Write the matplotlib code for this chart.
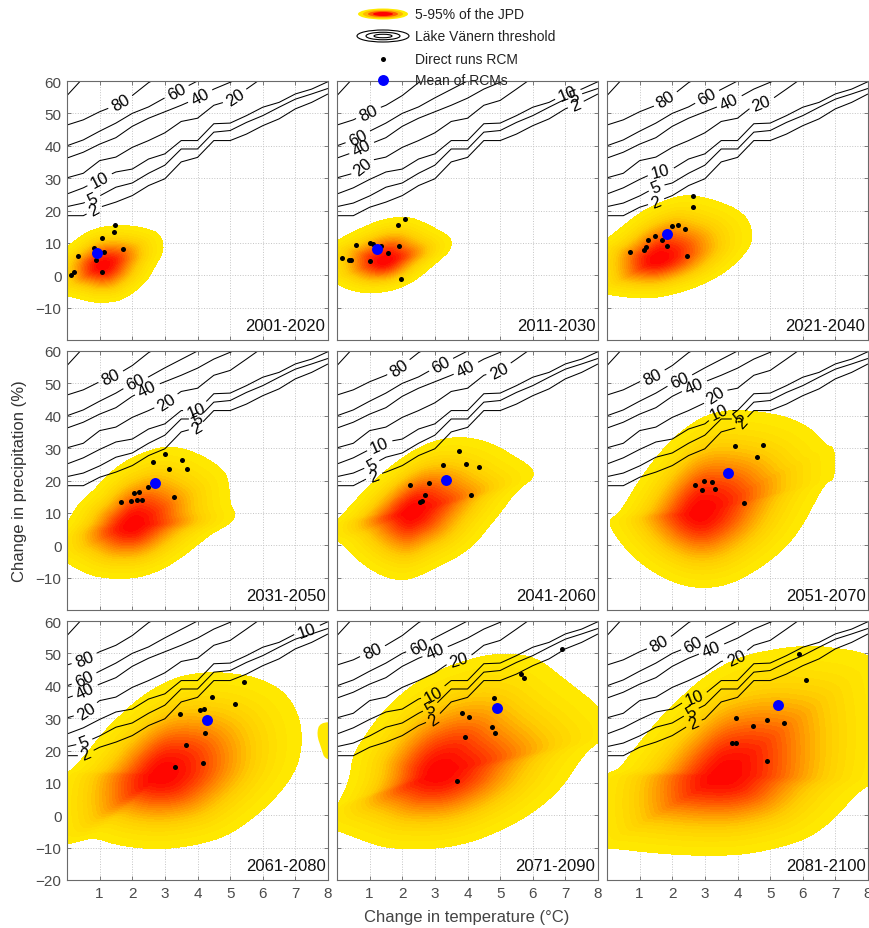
import numpy as np
import matplotlib
matplotlib.use("Agg")
import matplotlib.pyplot as plt
from matplotlib.colors import LinearSegmentedColormap, Normalize
from matplotlib.contour import ContourSet
from matplotlib.patches import Ellipse

plt.rcParams["font.family"] = ["Liberation Sans", "DejaVu Sans"]

periods = ["2001-2020", "2011-2030", "2021-2040",
           "2031-2050", "2041-2060", "2051-2070",
           "2061-2080", "2071-2090", "2081-2100"]

# direct RCM runs: change in temperature (°C) and precipitation (%)
run_dt = {
    "2001-2020": [1.48, 1.45, 1.07, 0.82, 0.86, 1.72, 1.14, 0.89, 0.33, 0.20, 0.13, 1.07],
    "2011-2030": [2.07, 1.87, 0.59, 1.02, 1.10, 1.36, 1.90, 1.56, 1.00, 0.16, 0.37, 0.42, 1.97],
    "2021-2040": [2.64, 2.64, 2.00, 2.19, 2.40, 1.48, 1.70, 1.26, 1.20, 1.12, 1.84, 0.69, 2.45],
    "2031-2050": [3.01, 2.64, 3.52, 3.68, 3.14, 2.48, 2.20, 2.04, 1.66, 1.96, 2.16, 2.29, 3.27],
    "2041-2060": [3.73, 3.25, 3.96, 4.35, 2.25, 2.82, 2.69, 2.62, 2.53, 4.10],
    "2051-2070": [3.93, 4.78, 4.59, 2.97, 2.69, 3.22, 2.92, 3.30, 4.19],
    "2061-2080": [5.43, 4.44, 5.16, 4.07, 4.19, 3.45, 4.23, 3.66, 3.31, 4.18],
    "2071-2090": [6.89, 5.65, 5.73, 4.82, 3.84, 4.04, 4.74, 4.85, 3.91, 3.67],
    "2081-2100": [5.87, 6.11, 3.96, 4.90, 4.48, 5.43, 3.83, 3.95, 4.90],
}
run_dp = {
    "2001-2020": [15.4, 13.3, 11.4, 8.5, 7.8, 8.1, 7.3, 4.8, 5.8, 0.9, 0.2, 0.9],
    "2011-2030": [17.4, 15.4, 9.2, 10.0, 9.7, 9.0, 8.9, 6.9, 4.3, 5.3, 4.7, 4.7, -1.3],
    "2021-2040": [24.6, 21.2, 15.2, 15.4, 14.3, 12.0, 10.9, 10.9, 8.7, 7.9, 8.9, 7.3, 6.1],
    "2031-2050": [28.2, 25.7, 26.2, 23.6, 23.6, 17.9, 16.6, 16.1, 13.5, 13.6, 14.1, 14.1, 14.8],
    "2041-2060": [29.0, 24.8, 25.0, 24.2, 18.5, 19.1, 15.4, 13.8, 13.5, 15.4],
    "2051-2070": [30.8, 31.1, 27.3, 20.0, 18.7, 19.5, 17.1, 17.4, 13.1],
    "2061-2080": [41.1, 36.5, 34.3, 32.4, 32.9, 31.3, 25.5, 21.8, 15.0, 16.1],
    "2071-2090": [51.2, 43.6, 42.5, 36.2, 31.6, 30.3, 27.4, 25.5, 24.3, 10.7],
    "2081-2100": [49.7, 41.9, 30.1, 29.3, 27.6, 28.5, 22.3, 22.2, 16.7],
}

# mean of the RCMs, one per period
mean_dt = [0.92, 1.24, 1.85, 2.71, 3.33, 3.71, 4.29, 4.90, 5.25]
mean_dp = [6.9, 8.1, 12.8, 19.3, 20.2, 22.3, 29.3, 33.2, 33.9]

# joint probability density: most likely point and the 5 % outline
jpd_mode = [(1.10, 3.0), (1.46, 4.5), (1.56, 5.0),
            (2.00, 6.3), (2.28, 10.2), (2.84, 10.2),
            (2.90, 12.5), (3.10, 13.0), (3.55, 12.3)]
jpd_edge = {
    "2001-2020": [(-0.35, -5.2), (-0.5, 1.0), (-0.3, 6.5), (0.0, 8.7), (0.31, 11.2), (0.61, 13.3),
                  (1.02, 14.8), (1.53, 15.4), (2.04, 15.2), (2.45, 14.3), (2.76, 13.3), (2.91, 11.2),
                  (2.96, 8.1), (2.86, 5.6), (2.76, 4.0), (2.60, 0.9), (2.40, -2.2), (2.04, -5.3),
                  (1.63, -7.8), (1.23, -8.4), (0.82, -8.4), (0.41, -7.3), (0.0, -6.3)],
    "2011-2030": [(-0.3, -1.5), (-0.45, 4.0), (-0.3, 9.5), (0.0, 10.7), (0.39, 12.8), (0.80, 14.8),
                  (1.31, 16.9), (1.82, 17.9), (2.23, 17.9), (2.64, 16.4), (3.04, 14.3), (3.40, 12.3),
                  (3.53, 10.2), (3.45, 7.6), (3.25, 5.6), (2.94, 3.0), (2.53, -0.6), (2.02, -3.7),
                  (1.41, -5.3), (0.80, -5.5), (0.29, -4.2), (0.0, -2.7)],
    "2021-2040": [(-0.35, -5.0), (-0.5, 3.0), (-0.35, 9.0), (0.0, 11.2), (0.39, 14.3), (0.90, 18.5),
                  (1.41, 21.5), (1.92, 23.6), (2.43, 24.8), (2.94, 24.1), (3.45, 22.6), (3.96, 20.5),
                  (4.32, 17.4), (4.45, 13.3), (4.42, 9.7), (4.17, 6.1), (3.86, 3.0), (3.45, -0.1),
                  (2.84, -3.2), (2.23, -5.3), (1.61, -6.8), (1.00, -7.1), (0.39, -6.5), (0.0, -5.8)],
    "2031-2050": [(-0.3, -4.0), (-0.45, 1.0), (-0.2, 4.5), (0.0, 6.6), (0.20, 10.2), (0.41, 13.3),
                  (0.82, 16.9), (1.23, 21.5), (1.74, 25.7), (2.25, 28.2), (2.86, 30.3), (3.37, 30.3),
                  (3.88, 28.8), (4.39, 26.2), (4.80, 23.1), (4.95, 20.0), (5.00, 12.3), (5.19, 9.7),
                  (5.00, 6.6), (4.49, 4.0), (4.09, 0.9), (3.58, -3.2), (2.96, -7.3), (2.25, -9.9),
                  (1.53, -10.4), (0.82, -9.6), (0.31, -7.3), (0.0, -5.3)],
    "2041-2060": [(-0.2, 2.0), (-0.3, 4.5), (-0.2, 6.5), (0.0, 7.6), (0.39, 11.8), (0.80, 16.4),
                  (1.31, 21.5), (1.82, 25.7), (2.43, 29.8), (3.04, 32.4), (3.66, 33.4), (4.27, 32.9),
                  (4.88, 30.8), (5.39, 27.7), (5.80, 25.2), (6.03, 23.1), (6.00, 20.5), (5.70, 18.5),
                  (5.39, 15.4), (5.09, 11.2), (4.68, 6.1), (4.27, 0.9), (3.76, -3.2), (3.15, -6.3),
                  (2.53, -9.4), (2.02, -10.9), (1.51, -9.9), (1.00, -7.3), (0.49, -3.2), (0.13, 0.9)],
    "2051-2070": [(0.08, 7.1), (0.13, 8.1), (0.39, 10.2), (0.59, 13.3), (0.90, 18.5), (1.31, 24.6),
                  (1.82, 30.8), (2.43, 36.5), (3.04, 40.1), (3.66, 41.6), (4.27, 41.6), (4.88, 40.9),
                  (5.50, 39.6), (6.10, 37.0), (6.52, 33.4), (6.72, 30.8), (6.98, 30.3), (6.98, 20.5),
                  (6.72, 19.5), (6.41, 14.3), (6.10, 8.1), (5.70, 2.0), (5.19, -3.2), (4.47, -8.4),
                  (3.76, -12.0), (3.04, -13.3), (2.33, -12.5), (1.61, -9.4), (1.00, -5.3),
                  (0.49, -0.1), (0.13, 5.1)],
    "2061-2080": [(-0.4, -8.5), (-0.5, 3.0), (-0.3, 12.5), (0.15, 13.8), (0.41, 16.9), (0.72, 20.5),
                  (1.12, 25.7), (1.63, 30.8), (2.15, 35.5), (2.66, 39.1), (3.27, 42.2), (3.88, 43.7),
                  (4.49, 44.2), (5.10, 43.7), (5.72, 42.7), (6.23, 40.6), (6.64, 38.0), (6.95, 33.9),
                  (7.15, 28.8), (7.20, 22.6), (7.10, 16.4), (6.84, 11.2), (6.44, 6.1), (6.03, 2.0),
                  (5.52, -2.2), (4.90, -6.3), (4.09, -8.9), (3.06, -10.4), (2.25, -10.2),
                  (1.43, -8.9), (0.82, -6.8), (0.30, -8.2), (0.0, -8.9)],
    "2071-2090": [(-0.3, -3.8), (-0.45, -0.5), (-0.2, 2.0), (0.0, 3.0), (0.18, 6.1), (0.39, 11.2),
                  (0.49, 18.5), (0.80, 23.6), (1.31, 30.8), (1.92, 37.0), (2.53, 41.6), (3.25, 45.3),
                  (3.96, 47.8), (4.58, 49.4), (5.19, 49.9), (5.80, 49.4), (6.31, 47.3), (6.82, 43.2),
                  (7.33, 39.1), (7.74, 36.0), (8.00, 33.4), (8.30, 30.5), (8.45, 27.0), (8.30, 24.0),
                  (8.00, 22.6), (7.64, 19.5), (7.33, 15.4), (6.93, 9.2), (6.41, 4.0), (5.70, -1.1),
                  (4.88, -5.3), (4.07, -8.4), (3.15, -10.2), (2.23, -10.4), (1.41, -9.9),
                  (0.69, -7.3), (0.29, -5.8), (0.0, -4.7)],
    "2081-2100": [(-0.35, -9.5), (-0.5, 1.0), (-0.35, 11.5), (0.0, 12.8), (0.39, 14.3), (0.69, 18.5),
                  (1.10, 23.6), (1.61, 29.8), (2.23, 36.0), (2.84, 41.6), (3.55, 46.3), (4.27, 49.4),
                  (4.98, 50.9), (5.70, 52.0), (6.41, 52.3), (7.13, 51.4), (7.64, 50.6), (8.00, 49.4),
                  (8.35, 47.0), (8.55, 30.0), (8.40, 12.0), (8.00, 9.2), (7.64, 6.6), (7.23, 2.0),
                  (6.72, -3.2), (6.10, -7.3), (5.29, -9.9), (4.27, -12.0), (3.25, -12.5),
                  (2.23, -12.2), (1.20, -11.4), (0.39, -10.4), (0.0, -10.2)],
}
# detached low-density patch at the right edge
jpd_islands = {
    "2061-2080": [(7.75, 28.7), (8.3, 28.7), (8.3, 17.0), (7.9, 17.3), (7.8, 20.5), (7.65, 25.0)],
}

# Lake Vänern threshold curves (level -> temperature / precipitation vertices)
thr_t = {
    90: [0, 0.41, 0.97],
    80: [0, 0.5, 1, 1.5, 2, 2.5, 2.6],
    60: [0, 0.5, 1, 1.5, 2, 2.5, 3, 3.5, 4],
    40: [0, 0.5, 1, 1.5, 2, 2.5, 3, 3.5, 4, 4.5, 5, 5.1],
    20: [0, 0.5, 1, 1.5, 2, 2.5, 3, 3.5, 4, 4.5, 5, 5.5, 5.85],
    10: [0, 0.5, 1, 1.5, 2, 2.5, 3, 3.5, 4, 4.5, 5, 5.5, 6, 6.5, 7, 7.5, 8],
    5: [0, 0.5, 1, 1.5, 2, 2.5, 3, 3.5, 4, 4.5, 5, 5.5, 6, 6.5, 7, 7.5, 8],
    2: [0, 0.5, 1, 1.5, 2, 2.5, 3, 3.5, 4, 4.5, 5, 5.5, 6, 6.5, 7, 7.5, 8],
}
thr_p = {
    90: [55.5, 60, 60],
    80: [46.4, 48.0, 50.5, 52.5, 55.5, 59.5, 60],
    60: [40.0, 41.8, 44.5, 47.0, 50.0, 52.0, 54.8, 57.4, 60],
    40: [36.2, 38.0, 40.5, 42.5, 46.0, 48.5, 50.5, 52.5, 54.7, 57.5, 59.6, 60],
    20: [30.1, 31.5, 35.4, 36.5, 39.5, 41.6, 44.0, 47.5, 48.5, 52.5, 54.0, 57.5, 60],
    10: [25.1, 27.0, 29.6, 31.9, 32.8, 35.9, 37.5, 41.6, 41.6, 46.8, 47.0, 49.3, 51.9, 53.4,
         56.0, 57.5, 59.8],
    5: [21.2, 22.3, 24.5, 27.2, 28.5, 31.5, 34.0, 39.0, 39.0, 44.2, 44.7, 47.2, 49.3, 51.9,
        54.4, 56.0, 57.7],
    2: [18.4, 18.4, 21.0, 22.6, 24.6, 27.7, 29.8, 35.0, 36.4, 41.6, 41.6, 43.6, 46.2, 48.3,
        51.4, 53.4, 56.0],
}
# where each threshold curve carries its label, per period: (level, dT, dP)
thr_labels = {
    "2001-2020": [(80, 1.65, 53.2), (60, 3.37, 56.5), (40, 4.10, 55.0), (20, 5.16, 55.0),
                  (10, 1.00, 29.5), (5, 0.82, 22.8), (2, 0.87, 19.5)],
    "2011-2030": [(80, 0.95, 50.4), (60, 0.64, 42.7), (40, 0.75, 39.4), (20, 0.80, 33.4),
                  (10, 7.08, 55.6), (5, 7.31, 54.0), (2, 7.38, 51.4)],
    "2021-2040": [(80, 1.82, 54.0), (60, 3.04, 55.6), (40, 3.76, 53.5), (20, 4.73, 53.5),
                  (10, 1.66, 31.3), (5, 1.51, 27.2), (2, 1.51, 22.6)],
    "2031-2050": [(80, 1.33, 52.3), (60, 2.09, 50.4), (40, 2.45, 48.4), (20, 3.06, 44.2),
                  (10, 3.98, 41.6), (5, 4.00, 38.6), (2, 4.00, 36.0)],
    "2041-2060": [(80, 1.92, 54.5), (60, 3.20, 55.6), (40, 3.96, 54.5), (20, 4.98, 54.0),
                  (10, 1.31, 30.8), (5, 1.10, 24.4), (2, 1.10, 22.2)],
    "2051-2070": [(80, 1.41, 52.0), (60, 2.23, 50.9), (40, 2.69, 48.9), (20, 3.35, 45.8),
                  (10, 3.50, 40.5), (5, 4.12, 39.1), (2, 4.22, 37.0)],
    "2061-2080": [(80, 0.56, 47.8), (60, 0.56, 41.6), (40, 0.56, 38.5), (20, 0.63, 31.8),
                  (10, 7.35, 57.5), (5, 0.56, 22.0), (2, 0.60, 18.6)],
    "2071-2090": [(80, 1.10, 50.4), (60, 2.48, 52.5), (40, 2.99, 50.9), (20, 3.76, 47.3),
                  (10, 2.99, 37.0), (5, 2.89, 32.9), (2, 2.94, 30.3)],
    "2081-2100": [(80, 1.61, 53.0), (60, 2.64, 53.0), (40, 3.20, 51.4), (20, 3.96, 48.9),
                  (10, 2.69, 36.0), (5, 2.58, 31.9), (2, 2.64, 28.8)],
}

jpd_cmap = LinearSegmentedColormap.from_list(
    "jpd", [(0.0, (1.0, 0.92, 0.0)), (0.25, (1.0, 0.80, 0.0)),
            (0.55, (1.0, 0.50, 0.0)), (1.0, (1.0, 0.0, 0.0))])
JPD_LEVELS = np.linspace(0.05, 1.0, 24)

GRID_T, GRID_P = np.meshgrid(np.linspace(-0.5, 8.5, 240), np.linspace(-22, 62, 240))


def rounded(edge, passes=2):
    """Chaikin corner cutting on a closed outline."""
    pts = np.asarray(edge, float)
    for _ in range(passes):
        nxt = np.roll(pts, -1, axis=0)
        out = np.empty((2 * len(pts), 2))
        out[0::2] = 0.75 * pts + 0.25 * nxt
        out[1::2] = 0.25 * pts + 0.75 * nxt
        pts = out
    return pts


def jpd_surface(mode, edge):
    """Density-like surface: 1 at the mode, 0.05 on the outline, level sets
    are the outline shrunk towards the mode."""
    m = np.asarray(mode, float)
    d = np.column_stack([GRID_T.ravel(), GRID_P.ravel()]) - m
    a_all = rounded(edge) - m
    e_all = np.roll(a_all, -1, axis=0) - a_all
    tmax = np.zeros(len(d))
    with np.errstate(divide="ignore", invalid="ignore"):
        for a, e in zip(a_all, e_all):
            den = d[:, 0] * e[1] - d[:, 1] * e[0]
            t = (a[0] * e[1] - a[1] * e[0]) / den
            s = (a[0] * d[:, 1] - a[1] * d[:, 0]) / den
            ok = (s >= 0) & (s <= 1) & (t > 0) & np.isfinite(t)
            tmax = np.where(ok & (t > tmax), t, tmax)
        frac = np.where(tmax > 0, 1.0 / tmax, np.inf)
    frac[np.hypot(d[:, 0], d[:, 1]) < 1e-9] = 0.0
    return np.exp(-3.0 * frac ** 2).reshape(GRID_T.shape)


fig = plt.figure(figsize=(8.69, 9.29), dpi=100)
FW, FH = 869, 929
col_left = [67, 337, 607]
row_top = [82, 352, 622]
AW, AH = 261, 259

for i, period in enumerate(periods):
    r, c = divmod(i, 3)
    ax = fig.add_axes([col_left[c] / FW, 1 - (row_top[r] + AH) / FH, AW / FW, AH / FH])

    dens = jpd_surface(jpd_mode[i], jpd_edge[period])
    ax.contourf(GRID_T, GRID_P, dens, levels=JPD_LEVELS, cmap=jpd_cmap,
                norm=Normalize(0.05, 1.0), zorder=1)
    if period in jpd_islands:
        isl = rounded(jpd_islands[period], 2)
        ax.fill(isl[:, 0], isl[:, 1], color=jpd_cmap(0.02), lw=0, zorder=1)

    # threshold curves, one set per level so each label lands on its own curve
    labels = {lev: (x, y) for lev, x, y in thr_labels[period]}
    for lev in thr_t:
        seg = np.column_stack([thr_t[lev], thr_p[lev]])
        cs = ContourSet(ax, [lev], [[seg]], colors="k", linewidths=0.75, zorder=2)
        if lev in labels:
            ax.clabel(cs, manual=[labels[lev]], inline=True, inline_spacing=3,
                      fontsize=12, fmt={lev: str(lev)})

    ax.scatter(run_dt[period], run_dp[period], s=13, c="k", linewidths=0, zorder=4)
    ax.scatter([mean_dt[i]], [mean_dp[i]], s=62, c="#0000ff", linewidths=0, zorder=5)

    ax.text(0.99, 0.055, period, transform=ax.transAxes, ha="right", va="center",
            fontsize=12, color="#111111", zorder=6)

    ax.set_xlim(0, 8)
    ax.set_ylim(-20, 60)
    ax.set_xticks(range(1, 9))
    ax.set_yticks(range(-20 if r == 2 else -10, 61, 10))
    ax.grid(True, linestyle=":", color="#c4c4c4", linewidth=0.7)
    ax.set_axisbelow(True)
    ax.tick_params(direction="in", top=True, right=True, length=3, width=0.6,
                   labelsize=11, labelcolor="#4a4a4a", color="#666666", pad=4)
    if c != 0:
        ax.tick_params(labelleft=False)
    if r != 2:
        ax.tick_params(labelbottom=False)
    for sp in ax.spines.values():
        sp.set_color("#6a6a6a")
        sp.set_linewidth(0.8)

fig.text(20 / FW, 1 - 481 / FH, "Change in precipitation (%)", rotation=90,
         ha="center", va="center", fontsize=12, color="#333333")
fig.text(467 / FW, 1 - 918 / FH, "Change in temperature (°C)",
         ha="center", va="center", fontsize=12, color="#444444")

# legend drawn in pixel coordinates over the top of the figure
lg = fig.add_axes([0, 0, 1, 1], zorder=10)
lg.set_xlim(0, FW)
lg.set_ylim(FH, 0)
lg.axis("off")
lg.patch.set_alpha(0)
for k, (w, h) in enumerate([(50, 11), (40, 8.5), (30, 6), (20, 4)]):
    lg.add_patch(Ellipse((383, 15), w, h, color=jpd_cmap(k / 3), lw=0))
for w, h in [(52, 12), (34, 7.5), (18, 3.5)]:
    lg.add_patch(Ellipse((383, 37), w, h, fill=False, ec="k", lw=0.8))
lg.scatter([383], [60], s=13, c="k", linewidths=0)
lg.scatter([383], [81], s=62, c="#0000ff", linewidths=0)
for y, txt in [(15, "5-95% of the JPD"), (37, "Läke Vänern threshold"),
               (60, "Direct runs RCM"), (81, "Mean of RCMs")]:
    lg.text(415, y, txt, ha="left", va="center", fontsize=10, color="#222222")

fig.savefig("out.png", dpi=100)
